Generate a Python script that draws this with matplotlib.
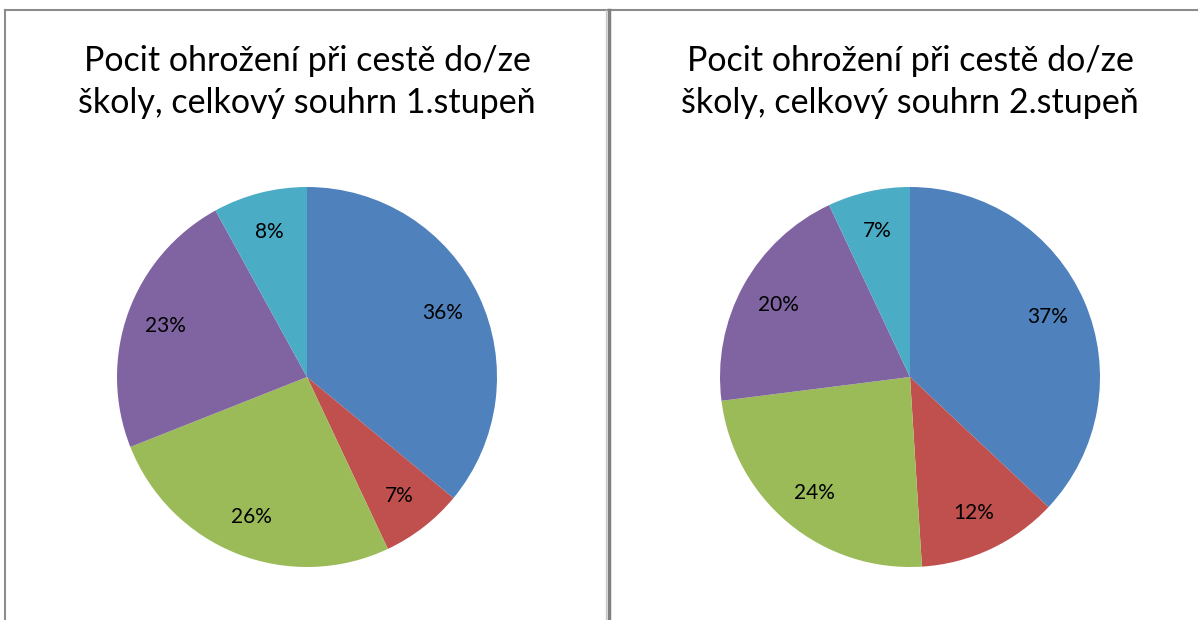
import matplotlib
matplotlib.use("Agg")
import matplotlib.pyplot as plt
from matplotlib.lines import Line2D

plt.rcParams['font.family'] = ['Lato', 'DejaVu Sans']

titles = ["Pocit ohrožení při cestě do/ze\nškoly, celkový souhrn 1.stupeň",
          "Pocit ohrožení při cestě do/ze\nškoly, celkový souhrn 2.stupeň"]
values_1 = [36, 7, 26, 23, 8]
values_2 = [37, 12, 24, 20, 7]
colors = ["#4F81BD", "#C0504D", "#9BBB59", "#8064A2", "#4BACC6"]

W, H = 1198, 620
fig = plt.figure(figsize=(W / 100, H / 100), dpi=100)
fig.patch.set_facecolor("white")

# ramecky jako v Excelu
fig.add_artist(Line2D([5 / W, 1], [1 - 10 / H, 1 - 10 / H], color="#8c8c8c", lw=1.5))
fig.add_artist(Line2D([5 / W, 5 / W], [0, 1 - 10 / H], color="#8c8c8c", lw=1.5))
fig.add_artist(Line2D([606 / W, 606 / W], [0, 1 - 10 / H], color="#c8c8c8", lw=1))
fig.add_artist(Line2D([608.5 / W, 608.5 / W], [0, 1 - 10 / H], color="#808080", lw=2.5))

r = 190
for cx, vals, title in [(307, values_1, titles[0]), (910, values_2, titles[1])]:
    ax = fig.add_axes([(cx - r) / W, 1 - (377 + r) / H, 2 * r / W, 2 * r / H])
    ax.pie(vals, colors=colors, startangle=90, counterclock=False,
           autopct="%1.0f%%", pctdistance=0.79,
           textprops={"fontsize": 15, "color": "black"})
    ax.set_xlim(-1, 1)
    ax.set_ylim(-1, 1)
    ax.set_aspect("equal")
    ax.axis("off")
    fig.text(cx / W, 1 - 82 / H, title, ha="center", va="center",
             fontsize=24.5, linespacing=1.4)

fig.savefig("out.png", dpi=100)
